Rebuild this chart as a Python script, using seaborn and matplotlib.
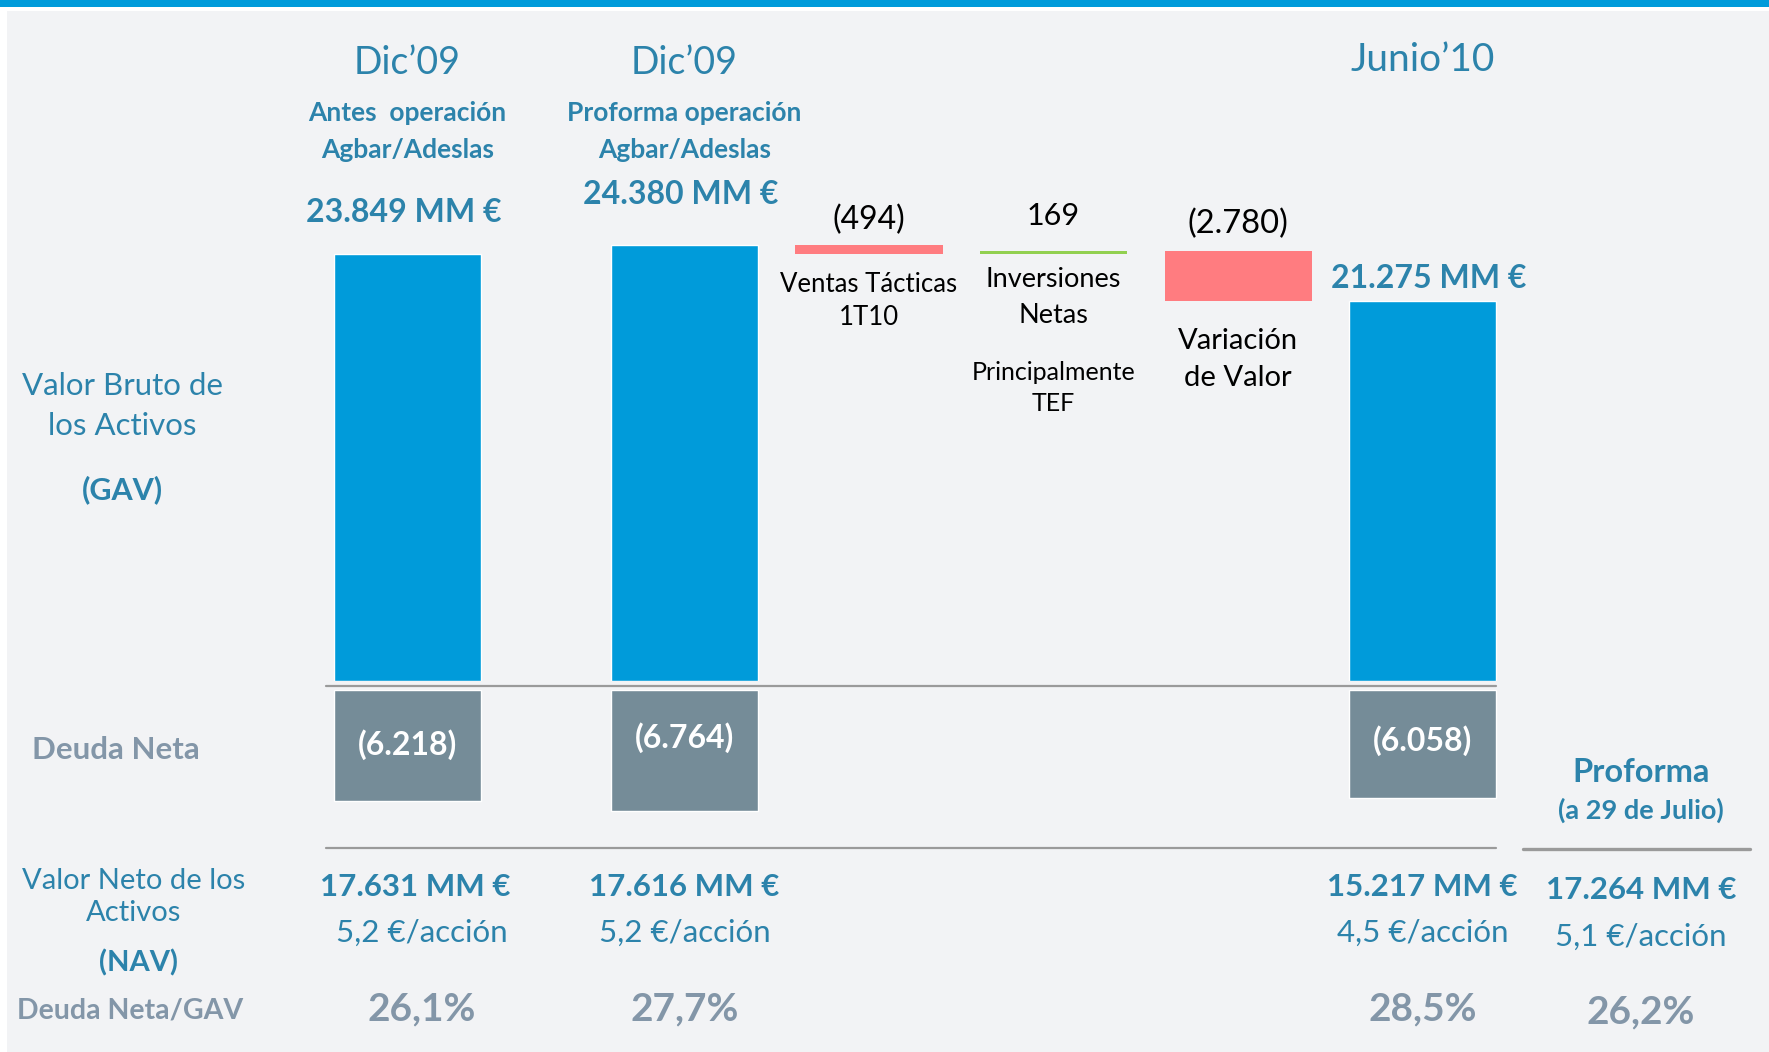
import numpy as np
import pandas as pd
import matplotlib
matplotlib.use("Agg")
import matplotlib.pyplot as plt
import matplotlib.transforms as mtransforms
from matplotlib.patches import Rectangle
from matplotlib.lines import Line2D
import seaborn as sns

# ---------------- data ----------------
# categorical slots (blank "_s" slots only space the columns apart)
columns = ["Dic09_antes", "_s1", "_s2", "Dic09_proforma", "_s3", "Ventas", "_s4",
           "Inversiones", "_s5", "Variacion", "_s6", "Junio10"]
gav_cols = ["Dic09_antes", "Dic09_proforma", "Junio10"]
gav_values = [23849, 24380, 21275]          # Valor Bruto de los Activos (MM €)
gav_labels = ["23.849 MM €", "24.380 MM €", "21.275 MM €"]
debt_values = [6218, 6764, 6058]            # Deuda Neta (MM €)
debt_labels = ["(6.218)", "(6.764)", "(6.058)"]
step_cols = ["Ventas", "Inversiones", "Variacion"]
step_values = [-494, 169, -2780]
step_labels = ["(494)", "169", "(2.780)"]
step_names = [["Ventas Tácticas", "1T10"], ["Inversiones", "Netas"], ["Variación", "de Valor"]]
nav_labels = ["17.631 MM €", "17.616 MM €", "15.217 MM €", "17.264 MM €"]
nav_per_share = ["5,2 €/acción", "5,2 €/acción", "4,5 €/acción", "5,1 €/acción"]
ltv_labels = ["26,1%", "27,7%", "28,5%", "26,2%"]

# ---------------- style ----------------
BLUE = "#009BDA"
RED = "#FF7C80"
GREEN = "#92D050"
SLATE = "#758C98"
TEAL = "#2C83AB"
GRAYTXT = "#8396A8"
LINE = "#9A9A9A"
BG = "#F2F3F5"

sns.set_theme(style="white")
plt.rcParams["font.family"] = ["Lato", "DejaVu Sans"]

W, H = 1769, 1052
fig = plt.figure(figsize=(W / 100, H / 100), dpi=100)
fig.patch.set_facecolor("white")
fig.add_artist(Rectangle((7 / W, 0), 1 - 7 / W, 1 - 11 / H, transform=fig.transFigure,
                         facecolor=BG, edgecolor="none", zorder=-5))
fig.add_artist(Rectangle((0, 1 - 7 / H), 1, 7 / H, transform=fig.transFigure,
                         facecolor=BLUE, edgecolor="none", zorder=-5))

# layout: pixel mapping
PX_PER_SLOT = 92.28
X0_PX = 407.6
K = 0.017884            # px per MM €
ZERO_TOP = 681          # baseline of GAV bars (px from top)
ZERO_BOT = 690          # top of debt bars (px from top)
BW = 1.593

ax_top = fig.add_axes([0, (H - ZERO_TOP) / H, 1, ZERO_TOP / H])
ax_bot = fig.add_axes([0, 0, 1, (H - ZERO_BOT) / H])
xlim = (-X0_PX / PX_PER_SLOT, (W - X0_PX) / PX_PER_SLOT)

gav_df = pd.DataFrame({"col": gav_cols, "value": gav_values})
sns.barplot(data=gav_df, x="col", y="value", order=columns, color=BLUE, saturation=1,
            width=BW, errorbar=None, ax=ax_top)
debt_df = pd.DataFrame({"col": gav_cols, "value": [-d for d in debt_values]})
sns.barplot(data=debt_df, x="col", y="value", order=columns, color=SLATE, saturation=1,
            width=BW, errorbar=None, ax=ax_bot)

pos = {c: i for i, c in enumerate(columns)}

for ax in (ax_top, ax_bot):
    ax.set_xlim(*xlim)
    ax.set_axis_off()
ax_top.set_ylim(0, ZERO_TOP / K)
ax_bot.set_ylim(-(H - ZERO_BOT) / K, 0)

def pt(px):
    return px * 72 / 100

# waterfall steps
above_off = [25.5, 34.5, 27]
above_size = [23, 22, 23.5]
below_off = [[31, 64], [26, 62], [40, 77.5]]
below_size = [18.5, 19.5, 21]
running = gav_values[1]
for i, (col, step, lbl) in enumerate(zip(step_cols, step_values, step_labels)):
    start, end = running, running + step
    bottom, top = min(start, end), max(start, end)
    ax_top.bar(pos[col], abs(step), bottom=bottom, width=BW,
               color=GREEN if step > 0 else RED, linewidth=0)
    ax_top.annotate(lbl, (pos[col], top), xytext=(0, pt(above_off[i])), textcoords="offset points",
                    ha="center", va="center", fontsize=above_size[i], color="black")
    for name, off in zip(step_names[i], below_off[i]):
        ax_top.annotate(name, (pos[col], bottom), xytext=(0, -pt(off)), textcoords="offset points",
                        ha="center", va="center", fontsize=below_size[i], color="black")
    if col == "Inversiones":
        for name, off in zip(["Principalmente", "TEF"], [119, 150]):
            ax_top.annotate(name, (pos[col], bottom), xytext=(0, -pt(off)), textcoords="offset points",
                            ha="center", va="center", fontsize=18, color="black")
    running = end

tr = mtransforms.blended_transform_factory(ax_top.transData, fig.transFigure)

def ctext(col, ypx, s, size, weight="normal", color=TEAL, dx=0):
    fig.text(pos[col] + dx / PX_PER_SLOT, 1 - ypx / H, s, transform=tr, ha="center", va="center",
             fontsize=size, fontweight=weight, color=color)

def ptext(xpx, ypx, s, size, weight="normal", color=TEAL):
    fig.text(xpx / W, 1 - ypx / H, s, ha="center", va="center",
             fontsize=size, fontweight=weight, color=color)

# headers
ctext("Dic09_antes", 63, "Dic’09", 27)
ctext("Dic09_proforma", 63, "Dic’09", 27)
ctext("Junio10", 60, "Junio’10", 28)
ctext("Dic09_antes", 113, "Antes  operación", 19, "bold")
ctext("Dic09_antes", 150, "Agbar/Adeslas", 19, "bold")
ctext("Dic09_proforma", 113, "Proforma operación", 19, "bold")
ctext("Dic09_proforma", 150, "Agbar/Adeslas", 19, "bold")

# GAV labels
for col, lbl, y, dx in zip(gav_cols, gav_labels, [212, 195, 278], [-4, -4, 6]):
    ctext(col, y, lbl, 23, "bold", dx=dx)

# debt labels
for col, lbl, y in zip(gav_cols, debt_labels, [745, 738, 741]):
    ctext(col, y, lbl, 23, "bold", "white")

# separator lines
left = pos[gav_cols[0]] - BW / 2 - 8 / PX_PER_SLOT
right = pos[gav_cols[-1]] + BW / 2
for ypx in (686, 848):
    fig.add_artist(Line2D([left, right], [1 - ypx / H] * 2, transform=tr, color=LINE, lw=1.6))
fig.add_artist(Line2D([1523 / W, 1750 / W], [1 - 849 / H] * 2, transform=fig.transFigure,
                      color=LINE, lw=2.4))

# left row labels
ptext(122, 386, "Valor Bruto de", 22.5)
ptext(122, 426, "los Activos", 22.5)
ptext(122, 490, "(GAV)", 22, "bold")
ptext(116, 750, "Deuda Neta", 22.5, "bold", GRAYTXT)
ptext(134, 881, "Valor Neto de los", 21)
ptext(134, 913, "Activos", 21)
ptext(138, 963, "(NAV)", 21, "bold")
ptext(130, 1011, "Deuda Neta/GAV", 20.5, "bold", GRAYTXT)

# proforma column
PROF_X = 1641
ptext(PROF_X, 772, "Proforma", 23.5, "bold")
ptext(PROF_X, 810, "(a 29 de Julio)", 19.5, "bold")

# NAV rows
for i, col in enumerate(gav_cols):
    ctext(col, 887, nav_labels[i], 22.5, "bold", dx=8 if i == 0 else 0)
    ctext(col, 933, nav_per_share[i], 22.5, dx=14 if i == 0 else 0)
    ctext(col, 1009, ltv_labels[i], 28, "bold", GRAYTXT, dx=14 if i == 0 else 0)
ptext(PROF_X, 890, nav_labels[3], 22.5, "bold")
ptext(PROF_X, 937, nav_per_share[3], 22.5)
ptext(PROF_X, 1012, ltv_labels[3], 28, "bold", GRAYTXT)

fig.savefig("out.png", dpi=100, facecolor=fig.get_facecolor())
